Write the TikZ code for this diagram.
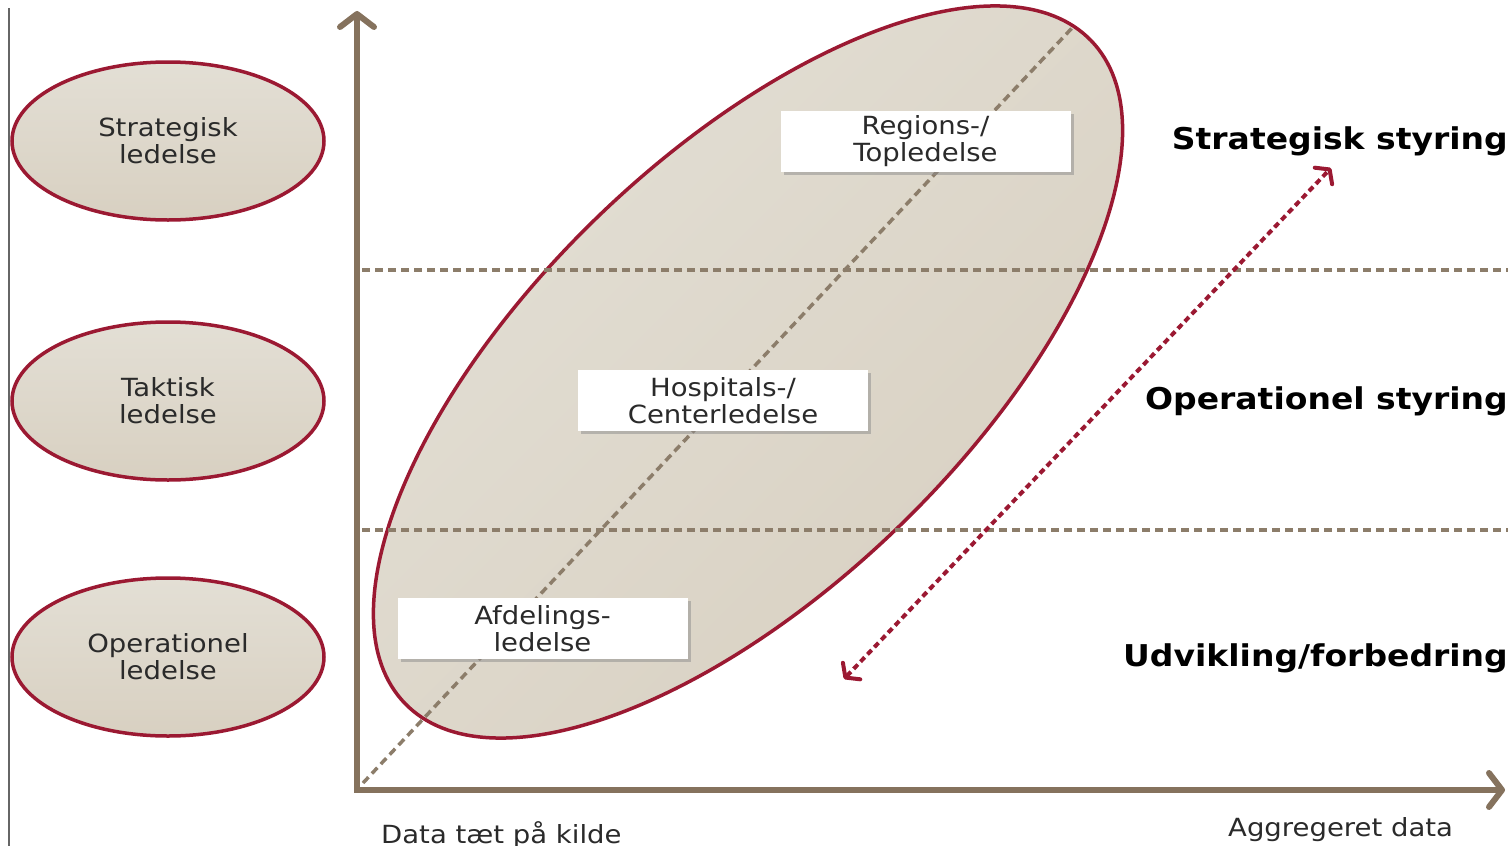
\documentclass[tikz,border=0pt]{standalone}
\usepackage{fontspec}
\setmainfont{DejaVu Sans}[FakeStretch=1.1]
\usetikzlibrary{arrows.meta,shapes.geometric,shadows}
\definecolor{dred}{HTML}{9B1932}
\definecolor{axbrown}{HTML}{85725D}
\definecolor{dgray}{HTML}{8C7D6A}
\definecolor{ellA}{HTML}{E3DFD5}
\definecolor{ellB}{HTML}{D8D0C1}
\definecolor{txt}{HTML}{2A2A2A}
\begin{document}
\begin{tikzpicture}[x=1pt,y=-1pt,
  every node/.style={font=\fontsize{25pt}{27pt}\selectfont, text=txt, inner sep=0pt},
  lead/.style={ellipse, draw=dred, line width=3.5pt, top color=ellA, bottom color=ellB,
    minimum width=312pt, minimum height=158pt, align=center},
  lbox/.style={rectangle, fill=white, minimum width=290pt, minimum height=61pt, align=center,
    drop shadow={shadow xshift=3pt, shadow yshift=-3pt, fill=black!45, opacity=0.5}},
  headline/.style={font=\fontsize{30pt}{32pt}\selectfont\bfseries, text=black, anchor=base east},
  axislbl/.style={anchor=base west},
  gridline/.style={draw=dgray, line width=3.5pt, dash pattern=on 8pt off 5pt},
  axisline/.style={draw=axbrown, line width=6pt, line join=miter,
    arrows={Straight Barb[length=13pt,width=34pt,round]-Straight Barb[length=13pt,width=34pt,round]}},
  redarrow/.style={draw=dred, line width=4pt, dash pattern=on 6pt off 4pt,
    arrows={Straight Barb[length=9pt,width=24pt,round]-Straight Barb[length=9pt,width=24pt,round]}},
]
\useasboundingbox (0,0) rectangle (1508,846);

% left border line
\coordinate (lt) at (9,8);
\coordinate (lb) at (9,846);
\draw[black!60, line width=1.5pt] (lt) -- (lb);

% left level ellipses
\node[lead] (strat) at (168,141) {Strategisk\\ledelse};
\node[lead] (takt)  at (168,401) {Taktisk\\ledelse};
\node[lead] (oper)  at (168,657) {Operationel\\ledelse};

% big rotated ellipse
\draw[draw=dred, line width=3.5pt, top color=ellA, bottom color=ellB, shading angle=45,
  shift={(748,372)}, rotate=44] (0,0) ellipse [x radius=477pt, y radius=216pt];

% horizontal dashed dividers
\coordinate (g1a) at (362,270);
\coordinate (g1b) at (1508,270);
\coordinate (g2a) at (362,530);
\coordinate (g2b) at (1508,530);
\draw[gridline] (g1a) -- (g1b);
\draw[gridline] (g2a) -- (g2b);

% diagonal dashed line
\coordinate (d1) at (363,783);
\coordinate (d2) at (1072,28);
\draw[gridline] (d1) -- (d2);

% white boxes
\node[lbox] (region) at (925.5,141) {Regions-/\\Topledelse};
\node[lbox] (hosp)   at (723,400.5) {Hospitals-/\\Centerledelse};
\node[lbox] (afd)    at (542.5,628.5) {Afdelings-\\ledelse};

% axes
\coordinate (ytop) at (357,11);
\coordinate (orig) at (357,790);
\coordinate (xend) at (1505,790);
\draw[axisline] (ytop) -- (orig) -- (xend);

% red double arrow
\coordinate (ra) at (844,679);
\coordinate (rb) at (1331,168);
\draw[redarrow] (ra) -- (rb);

% right labels
\node[headline] (hs) at (1508,149) {Strategisk styring};
\node[headline] (ho) at (1508,409) {Operationel styring};
\node[headline] (hu) at (1508,666) {Udvikling/forbedring};

% axis labels
\node[axislbl] (xl1) at (381,843) {Data tæt på kilde};
\node[axislbl] (xl2) at (1228,836) {Aggregeret data};
\end{tikzpicture}
\end{document}
